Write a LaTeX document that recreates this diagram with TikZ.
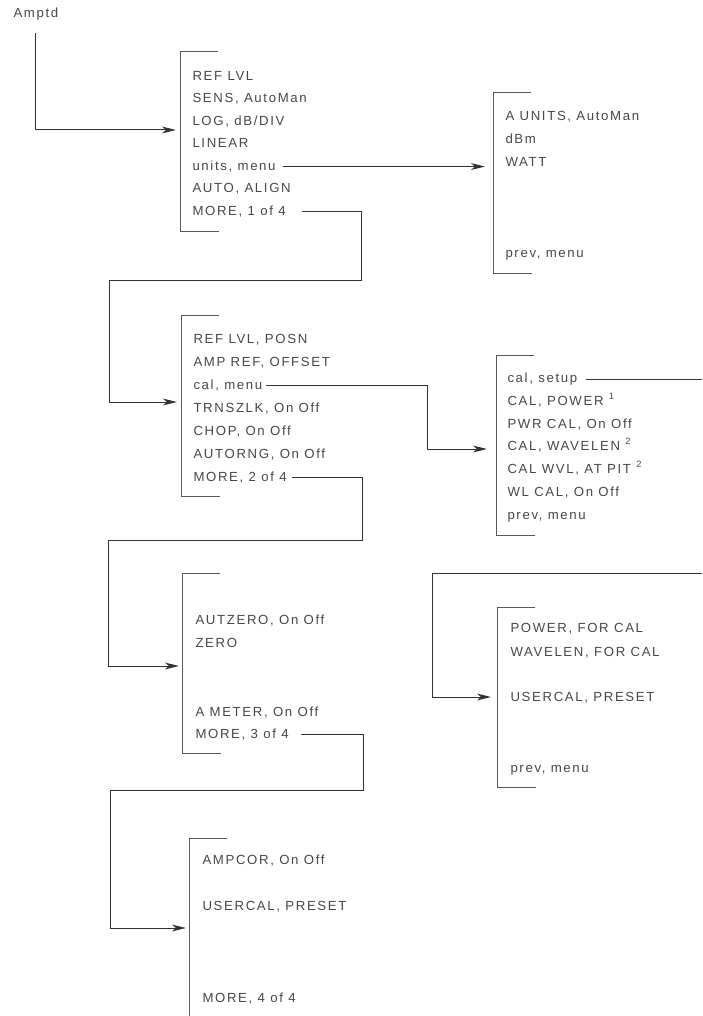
\documentclass[tikz,border=0pt]{standalone}
\usepackage{fontspec}
\setmainfont{Liberation Sans}[LetterSpace=12.5]
\usetikzlibrary{arrows.meta}

\begin{document}
\begin{tikzpicture}[x = 0.5pt, y = -0.5pt, line width = 0.5pt,
                        item/.style = {anchor = base west, inner sep = 0pt, text = black!72,
                                       font = \fontsize{6.6}{7}\selectfont},
                        bracket/.style = {draw = black!65},
                        link/.style = {draw = black!80},
                        flow/.style = {link, -{Stealth[length = 7pt, width = 3.4pt, inset = 2pt]}}]
      \useasboundingbox (0, 0) rectangle (702, 1016);

      \node [item] (amptd) at (13, 18){Amptd};

      % first menu
      \node [item] (reflvl) at (192, 80.5){REF LVL};
      \node [item] (sens) at (192, 103){SENS, AutoMan};
      \node [item] (log) at (192, 125.5){LOG, dB/DIV};
      \node [item] (linear) at (192, 148){LINEAR};
      \node [item] (units) at (192, 170.5){units, menu};
      \node [item] (auto) at (192, 193){AUTO, ALIGN};
      \node [item] (more1) at (192, 215.5){MORE, 1 of 4};

      \node [item] (aunits) at (505, 120.5){A UNITS, AutoMan};
      \node [item] (dbm) at (505, 143.5){dBm};
      \node [item] (watt) at (505, 166.5){WATT};
      \node [item] (prevA) at (505, 257.5){prev, menu};

      % second menu
      \node [item] (posn) at (193, 343.5){REF LVL, POSN};
      \node [item] (ampref) at (193, 366.5){AMP REF, OFFSET};
      \node [item] (calmenu) at (193, 389.5){cal, menu};
      \node [item] (trnszlk) at (193, 412.5){TRNSZLK, On Off};
      \node [item] (chop) at (193, 435.5){CHOP, On Off};
      \node [item] (autorng) at (193, 458.5){AUTORNG, On Off};
      \node [item] (more2) at (193, 481.5){MORE, 2 of 4};

      \node [item] (calsetup) at (507, 382.5){cal, setup};
      \node [item] (calpower) at (507, 405.3){CAL, POWER \textsuperscript{1}};
      \node [item] (pwrcal) at (507, 428.1){PWR CAL, On Off};
      \node [item] (calwavelen) at (507, 450.9){CAL, WAVELEN \textsuperscript{2}};
      \node [item] (calwvl) at (507, 473.7){CAL WVL, AT PIT \textsuperscript{2}};
      \node [item] (wlcal) at (507, 496.5){WL CAL, On Off};
      \node [item] (prevC) at (507, 519.3){prev, menu};

      % third menu
      \node [item] (autzero) at (195, 624.5){AUTZERO, On Off};
      \node [item] (zero) at (195, 647){ZERO};
      \node [item] (ameter) at (195, 716){A METER, On Off};
      \node [item] (more3) at (195, 738){MORE, 3 of 4};

      \node [item] (powerfor) at (510, 632.5){POWER, FOR CAL};
      \node [item] (wavelenfor) at (510, 656){WAVELEN, FOR CAL};
      \node [item] (usercalP) at (510, 701.5){USERCAL, PRESET};
      \node [item] (prevP) at (510, 772.5){prev, menu};

      % fourth menu
      \node [item] (ampcor) at (202, 864.5){AMPCOR, On Off};
      \node [item] (usercal4) at (202, 910.5){USERCAL, PRESET};
      \node [item] (more4) at (202, 1002.5){MORE, 4 of 4};

      % brackets
      \foreach \x/\t/\b in {180/52/232, 493/93/273, 181/315/496, 496/355/535, 182/573/753, 497/607/787}
        \draw [bracket] (\x+38, \t) -| (\x, \b) -- ++(39, 0);
      \draw [bracket] (227, 838) -| (189, 1016);

      % arrow ends and bends
      \coordinate (in1) at (176, 130);
      \coordinate (inA) at (485, 167);
      \coordinate (in2) at (177, 402);
      \coordinate (in3) at (487, 449);
      \coordinate (in4) at (491, 697);
      \coordinate (in5) at (179, 666);
      \coordinate (in6) at (186, 928);
      \coordinate (b1) at (361, 280);
      \coordinate (c1) at (109, 280);
      \coordinate (b2) at (362, 540);
      \coordinate (c2) at (108, 540);
      \coordinate (b3) at (363, 790);
      \coordinate (c3) at (110, 790);
      \coordinate (k3) at (427, 449);
      \coordinate (edge) at (702, 377);
      \coordinate (o4) at (702, 573);
      \coordinate (k4) at (432, 573);

      \draw [flow, shorten <= 6pt] (amptd.south) |- (in1);
      \draw [flow, shorten <= 3.5pt] (units.east) -- (units.east -| inA);
      \draw [flow, shorten <= 8pt] (more1.east) -- (more1.east -| b1) -- (b1) -- (c1) |- (in2);
      \draw [flow, shorten <= 1.5pt] (calmenu.east) -| (k3) -- (in3);
      \draw [link, shorten <= 4pt] (calsetup.east) -- (calsetup.east -| edge);
      \draw [flow] (o4) -- (k4) |- (in4);
      \draw [flow, shorten <= 2.5pt] (more2.east) -- (more2.east -| b2) -- (b2) -- (c2) |- (in5);
      \draw [flow, shorten <= 6pt] (more3.east) -- (more3.east -| b3) -- (b3) -- (c3) |- (in6);
      \end{tikzpicture}
\end{document}
